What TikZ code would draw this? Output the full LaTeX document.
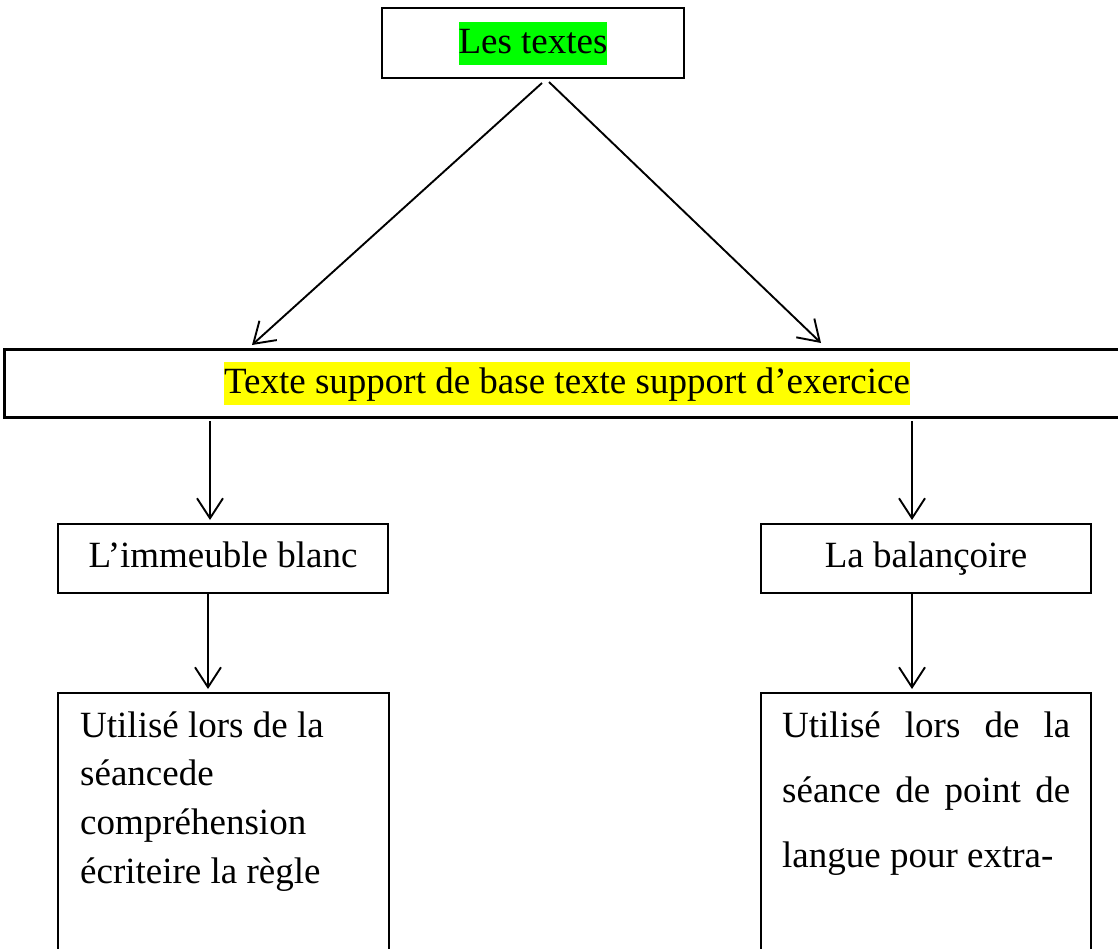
\documentclass[tikz,border=0pt]{standalone}
\usepackage{fontspec}
\setmainfont{Liberation Serif}
\usetikzlibrary{arrows.meta,calc}
\definecolor{hlgreen}{RGB}{0,255,0}
\definecolor{hlyellow}{RGB}{255,255,0}
\newcommand{\hlbox}[2]{{\setlength{\fboxsep}{0pt}\colorbox{#1}{\rule[-11pt]{0pt}{43pt}#2}}}
\begin{document}
\begin{tikzpicture}[x=1pt,y=-1pt,
  box/.style={draw,line width=1.5pt,inner sep=0pt,outer sep=0pt,anchor=north west},
  arr/.style={line width=1.9pt,-{Straight Barb[length=20pt,width=26pt]}},
  txt/.style={font=\fontsize{37}{48.7}\selectfont},
  para/.style={inner sep=0pt,anchor=north west,align=left}]
\useasboundingbox (0,0) rectangle (1118,948);
\clip (0,0) rectangle (1118,948);
% boxes
\node[box,line width=2pt,minimum width=302pt,minimum height=70pt,txt] (top) at (382,8) {\hlbox{hlgreen}{Les textes}};
\node[box,line width=3pt,minimum width=1126pt,minimum height=68pt,txt] (mid) at (4,349)
  {\hlbox{hlyellow}{Texte support de base texte support d’exercice}};
\node[box,minimum width=330pt,minimum height=69pt,text height=26pt,text depth=8pt,txt] (imm) at (58,524) {L’immeuble blanc};
\node[box,minimum width=330pt,minimum height=69pt,text height=26pt,text depth=8pt,txt] (bal) at (761,524) {La balançoire};
\node[box,minimum width=331pt,minimum height=270pt] (bl) at (58,693) {};
\node[box,minimum width=330pt,minimum height=270pt] (br) at (761,693) {};
% texts of the lower boxes
\node[para,font=\fontsize{37}{48.7}\selectfont] (blt) at (80,702.9)
  {\strut Utilisé lors de la\\séancede\\compréhension\\écriteire la règle};
\node[para,font=\fontsize{37}{65}\selectfont] (brt) at (782,691.5)
  {\strut\makebox[288pt][s]{Utilisé lors de la}\\\makebox[288pt][s]{séance de point de}\\langue pour extra-};
% connectors
\draw[arr] ($(top.south)+(9,5)$) -- ($(mid.north west)+(248,-4)$);
\draw[arr] ($(top.south)+(16,4)$) -- ($(mid.north west)+(817,-6)$);
\draw[arr] ($(mid.south west)+(206,4)$) -- ($(imm.north west)+(152,-4)$);
\draw[arr] ($(mid.south west)+(908,4)$) -- ($(bal.north west)+(151,-4)$);
\draw[arr] ($(imm.south west)+(150,1)$) -- ($(bl.north west)+(150,-4)$);
\draw[arr] ($(bal.south west)+(151,1)$) -- ($(br.north west)+(151,-4)$);
\end{tikzpicture}
\end{document}
